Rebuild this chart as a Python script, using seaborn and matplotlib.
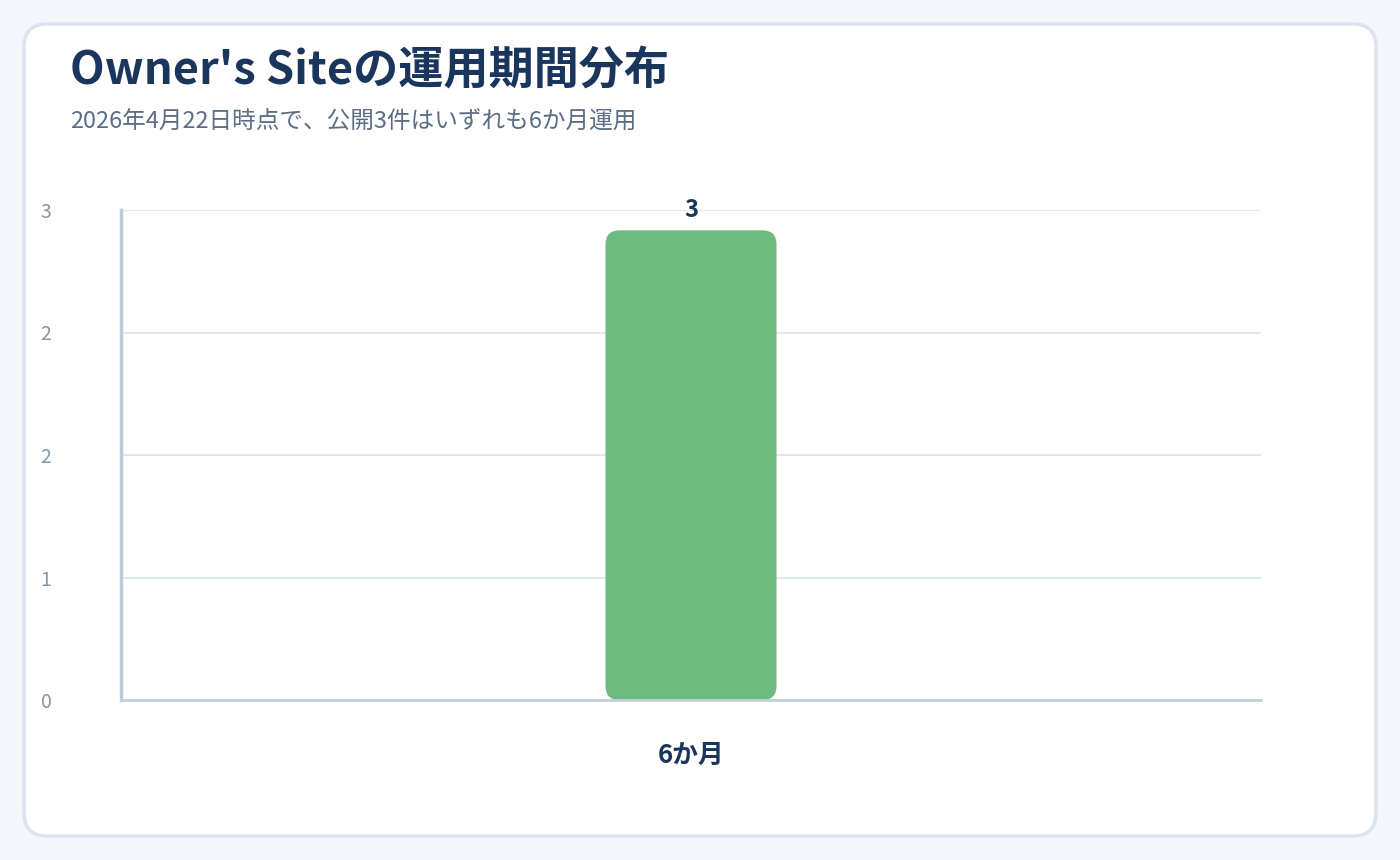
import numpy as np
import pandas as pd
import seaborn as sns
import matplotlib.pyplot as plt
from matplotlib.patches import FancyBboxPatch

# data
periods = ["6か月"]
counts = [3]
y_top = 3.13
n_ticks = 5

title = "Owner's Siteの運用期間分布"
subtitle = "2026年4月22日時点で、公開3件はいずれも6か月運用"

sns.set_theme(style="white")
plt.rcParams['font.family'] = ['Noto Sans CJK JP', 'DejaVu Sans']

navy = "#1b365d"
green = "#6dbb80"

fig = plt.figure(figsize=(14, 8.6), dpi=100)
fig.patch.set_facecolor("#f3f6fb")

# white card
card = FancyBboxPatch((24 / 1400, 1 - 836 / 860), 1352 / 1400, 812 / 860,
                      boxstyle="round,pad=0,rounding_size=0.0165",
                      mutation_aspect=1400 / 860,
                      transform=fig.transFigure, facecolor="white",
                      edgecolor="#dbe4ee", linewidth=2.5, zorder=-5)
fig.patches.append(card)

fig.text(70 / 1400, 1 - 72 / 860, title, fontsize=32.5, fontweight="bold",
         color=navy, va="center", ha="left")
fig.text(70 / 1400, 1 - 121 / 860, subtitle, fontsize=17, color="#5b6e85",
         va="center", ha="left")

ax = fig.add_axes([121 / 1400, 1 - 700 / 860, 1140 / 1400, 490 / 860])
ax.set_facecolor("none")

df = pd.DataFrame({"period": periods, "count": counts})
sns.barplot(data=df, x="period", y="count", color=green, width=0.15,
            saturation=1, ax=ax, zorder=3)

ax.set_xlim(-0.5, len(periods) - 0.5)
ax.set_ylim(0, y_top)
ticks = np.linspace(0, y_top, n_ticks)
ax.set_yticks(ticks)
ax.set_yticklabels([f"{t:.0f}" for t in ticks])
ax.yaxis.grid(True, color="#dfe8f1", linewidth=1.5, zorder=0)
ax.set_axisbelow(True)

# rounded bars
fig.canvas.draw()
inv = ax.transData.inverted()
p0 = inv.transform((0, 0))
p1 = inv.transform((1, 1))
aspect = (p1[1] - p0[1]) / (p1[0] - p0[0])
for patch in list(ax.patches):
    x, y = patch.get_x(), patch.get_y()
    w, h = patch.get_width(), patch.get_height()
    patch.remove()
    r = 14 * (p1[0] - p0[0])
    ax.add_patch(FancyBboxPatch((x, y), w, h,
                                boxstyle=f"round,pad=0,rounding_size={r}",
                                mutation_aspect=aspect, facecolor=green,
                                edgecolor="none", zorder=3, clip_on=False))
    ax.text(x + w / 2, y + h + 0.055, f"{h:.0f}", ha="center", va="bottom",
            fontsize=17, fontweight="bold", color=navy)

for s in ["top", "right"]:
    ax.spines[s].set_visible(False)
ax.spines["left"].set_color("#bccbda")
ax.spines["left"].set_linewidth(2.5)
ax.spines["bottom"].set_color("#c3d0dd")
ax.spines["bottom"].set_linewidth(2)
ax.spines["bottom"].set_zorder(4)

ax.tick_params(axis="y", length=0, pad=50, labelsize=14, labelcolor="#8496aa")
ax.tick_params(axis="x", length=0, pad=30, labelsize=18.5, labelcolor=navy)
for lab in ax.get_xticklabels():
    lab.set_fontweight("bold")
ax.set_xlabel("")
ax.set_ylabel("")

fig.savefig("out.png", dpi=100, facecolor=fig.get_facecolor())
